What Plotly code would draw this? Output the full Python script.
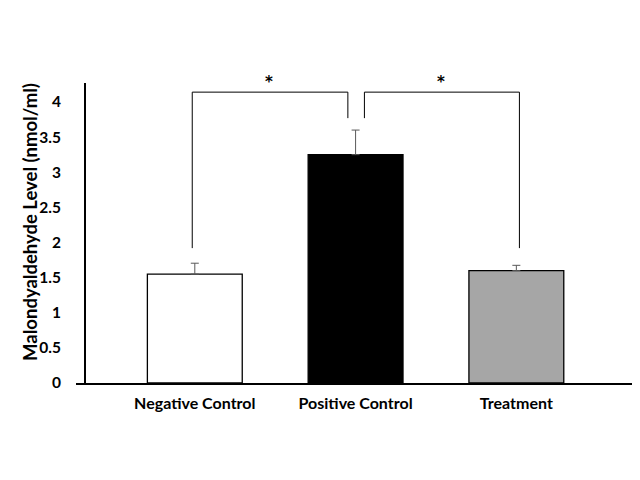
import plotly.graph_objects as go

categories = ["Negative Control", "Positive Control", "Treatment"]
values = [1.55, 3.25, 1.60]
errors = [0.155, 0.35, 0.075]
bar_colors = ["#ffffff", "#000000", "#a6a6a6"]
y_ticks = [0, 0.5, 1, 1.5, 2, 2.5, 3, 3.5, 4]
y_tick_labels = ["0", "0.5", "1", "1.5", "2", "2.5", "3", "3.5", "4"]
y_title = "Malondyaldehyde Level (nmol/ml)"
sig_label = "*"

FONT = "Lato"

fig = go.Figure()
fig.add_trace(go.Bar(
    x=categories, y=values,
    marker=dict(color=bar_colors, line=dict(color="#000000", width=1.3)),
    width=0.59,
    error_y=dict(type="data", array=errors, arrayminus=[0, 0, 0], symmetric=False,
                 color="#595959", thickness=1, width=4),
    showlegend=False,
))

# y axis line (drawn offset from plot edge, like the original)
fig.add_shape(type="line", xref="x", yref="y", x0=-0.683, x1=-0.683, y0=0, y1=4.27,
              line=dict(color="#000000", width=2))

# significance brackets
br = dict(color="#000000", width=1)
left_path = "M -0.016,1.92 L -0.016,4.14 L 0.952,4.14 L 0.952,3.77"
right_path = "M 1.055,3.77 L 1.055,4.14 L 2.019,4.14 L 2.019,1.92"
fig.add_shape(type="path", xref="x", yref="y", path=left_path, line=br)
fig.add_shape(type="path", xref="x", yref="y", path=right_path, line=br)
for xc in [0.46, 1.53]:
    fig.add_annotation(x=xc, y=4.14, xref="x", yref="y", text=sig_label, showarrow=False,
                       yanchor="bottom", yshift=-1,
                       font=dict(family="DejaVu Sans", size=15, color="#000000"))

fig.add_annotation(x=-0.0823, y=0.537, xref="paper", yref="paper", text=y_title,
                   textangle=-90, showarrow=False, xanchor="center", yanchor="middle",
                   font=dict(family=FONT, size=18.5, color="#000000", weight="bold"))

fig.update_layout(
    width=640, height=480,
    margin=dict(l=68, r=13, t=75, b=105),
    paper_bgcolor="#ffffff", plot_bgcolor="#ffffff",
    font=dict(family=FONT, size=15, color="#000000", weight="bold"),
    bargap=0.41,
    xaxis=dict(range=[-0.739, 2.738], showline=True, linecolor="#000000", linewidth=2,
               ticks="", showgrid=False, zeroline=False, ticklabelstandoff=5,
               tickfont=dict(family=FONT, size=16, color="#000000", weight="bold")),
    yaxis=dict(range=[0, 4.27], tickvals=y_ticks, ticktext=y_tick_labels,
               showline=False, ticks="", showgrid=False, zeroline=False,
               ticklabelstandoff=14,
               tickfont=dict(family=FONT, size=15.5, color="#000000", weight="bold")),
)

fig.write_html("out.html")
